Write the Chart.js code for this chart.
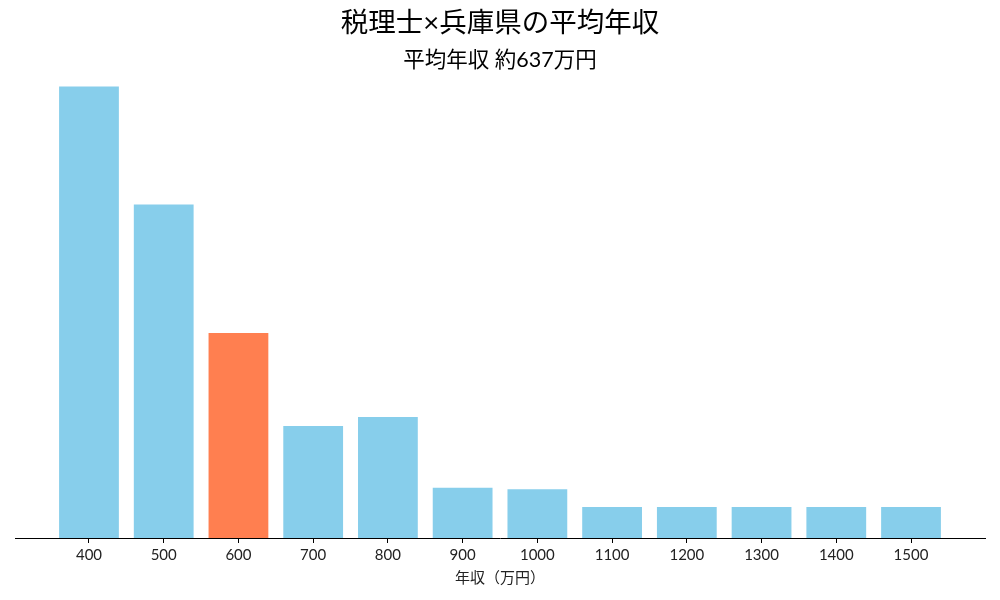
<!DOCTYPE html>
<html>
<head>
<meta charset="utf-8">
<script src="https://cdn.jsdelivr.net/npm/chart.js@4/dist/chart.umd.min.js"></script>
<style>
html,body{margin:0;padding:0;background:#fff;}
#wrap{width:1000px;height:600px;position:relative;}
</style>
</head>
<body>
<div id="wrap"><canvas id="c" width="1000" height="600"></canvas></div>
<script>
const categories = ["400","500","600","700","800","900","1000","1100","1200","1300","1400","1500"];
const values = [30.6, 22.6, 13.9, 7.6, 8.2, 3.4, 3.3, 2.1, 2.1, 2.1, 2.1, 2.1];
const highlightIndex = 2;
const titleText = "税理士×兵庫県の平均年収";
const subtitleText = "平均年収 約637万円";
const xTitle = "年収（万円）";

const FONT = "Lato, 'Noto Sans CJK JP', sans-serif";
const baseColor = "#87CEEB";
const hiColor = "#FF7F50";

const titlePlugin = {
  id: 'fixedTitles',
  afterDraw(chart) {
    const ctx = chart.ctx;
    ctx.save();
    ctx.fillStyle = '#000';
    ctx.textAlign = 'center';
    ctx.textBaseline = 'middle';
    ctx.font = "27.5px " + FONT;
    ctx.fillText(titleText, 500, 23);
    ctx.font = "21.5px " + FONT;
    ctx.fillText(subtitleText, 500, 60);
    ctx.restore();
  }
};

const maxV = Math.max(...values);
new Chart(document.getElementById('c'), {
  type: 'bar',
  data: {
    datasets: [{
      data: values.map((v, i) => ({x: i, y: v})),
      backgroundColor: values.map((v, i) => i === highlightIndex ? hiColor : baseColor),
      borderWidth: 0,
      categoryPercentage: 1.0,
      barPercentage: 0.8
    }]
  },
  options: {
    responsive: false,
    animation: false,
    devicePixelRatio: 1,
    layout: {padding: {top: 64, left: 15, right: 15, bottom: 13}},
    plugins: {legend: {display: false}, tooltip: {enabled: false}, title: {display: false}},
    scales: {
      x: {
        type: 'linear',
        offset: false,
        min: -0.99,
        max: categories.length - 1 + 0.99,
        afterBuildTicks: s => { s.ticks = categories.map((_, i) => ({value: i})); },
        ticks: {
          callback: v => categories[v],
          color: '#222',
          font: {family: FONT, size: 15},
          padding: 3,
          maxRotation: 0,
          autoSkip: false
        },
        grid: {offset: false, drawOnChartArea: false, drawTicks: true, tickLength: 5, color: '#000'},
        border: {display: true, color: '#000', width: 1},
        title: {display: true, text: xTitle, color: '#222', font: {family: FONT, size: 15}, padding: {top: 2, bottom: 0}}
      },
      y: {
        display: false,
        min: 0,
        max: maxV * 1.05
      }
    }
  },
  plugins: [titlePlugin]
});
</script>
</body>
</html>
